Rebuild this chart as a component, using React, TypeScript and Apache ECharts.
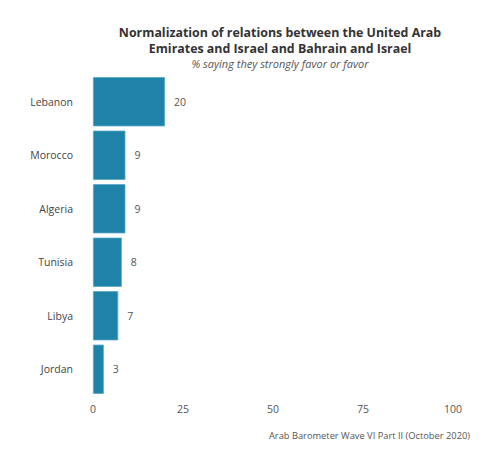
import React, { useEffect, useRef } from "react";
import * as echarts from "echarts";

const categories = ["Lebanon", "Morocco", "Algeria", "Tunisia", "Libya", "Jordan"];
const values = [20, 9, 9, 8, 7, 3];
const xTicks = [0, 25, 50, 75, 100];

const FONT = "'Open Sans', 'Noto Sans', sans-serif";

export default function App() {
  const ref = useRef<HTMLDivElement>(null);
  useEffect(() => {
    if (!ref.current) return;
    const chart = echarts.init(ref.current, undefined, { renderer: "svg" });
    chart.setOption({
      animation: false,
      backgroundColor: "#ffffff",
      textStyle: { fontFamily: FONT },
      title: [
        {
          text: "Normalization of relations between the United Arab",
          left: 280,
          top: 25.5,
          padding: 0,
          textAlign: "center",
          textStyle: { fontFamily: FONT, fontWeight: "bold", fontSize: 12.4, color: "#333333", lineHeight: 13 },
        },
        {
          text: "Emirates and Israel and Bahrain and Israel",
          left: 280,
          top: 41.5,
          padding: 0,
          textAlign: "center",
          textStyle: { fontFamily: FONT, fontWeight: "bold", fontSize: 12.4, color: "#333333", lineHeight: 13 },
        },
        {
          text: "% saying they strongly favor or favor",
          left: 280,
          top: 57.5,
          padding: 0,
          textAlign: "center",
          textStyle: { fontFamily: FONT, fontStyle: "italic", fontWeight: "normal", fontSize: 11, color: "#555555", lineHeight: 12 },
        },
        {
          text: "Arab Barometer Wave VI Part II (October 2020)",
          right: 27,
          top: 426,
          textStyle: { fontFamily: FONT, fontWeight: "normal", fontSize: 9.3, color: "#555555" },
        },
      ],
      grid: { left: 93, right: 49, top: 75, bottom: 68 },
      xAxis: {
        type: "value",
        min: 0,
        max: 100,
        interval: 25,
        axisLine: { show: false },
        axisTick: { show: false },
        splitLine: { show: false },
        axisLabel: {
          color: "#555555",
          fontSize: 10.5,
          fontFamily: FONT,
          margin: 7,
          formatter: (v: number) => (xTicks.includes(v) ? String(v) : ""),
        },
      },
      yAxis: {
        type: "category",
        data: categories,
        inverse: true,
        axisLine: { show: false },
        axisTick: { show: false },
        axisLabel: { color: "#444444", fontSize: 10.5, fontFamily: FONT, margin: 20 },
      },
      series: [
        {
          type: "bar",
          data: values,
          barCategoryGap: "8%",
          itemStyle: { color: "#1f83a9", borderColor: "#5aa6c4", borderWidth: 0.8 },
          label: {
            show: true,
            position: "right",
            distance: 9,
            color: "#555555",
            fontSize: 10.5,
            fontFamily: FONT,
          },
        },
      ],
    });
    return () => chart.dispose();
  }, []);
  return (
    <div
      ref={ref}
      style={{ position: "fixed", left: 0, top: 0, width: 502, height: 464 }}
    />
  );
}
